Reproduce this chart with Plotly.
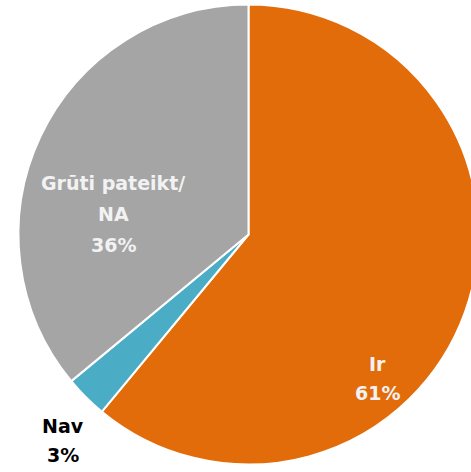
import plotly.graph_objects as go

# ---- data ----
labels = ["Ir", "Nav", "Grūti pateikt/<br>NA"]
label_lines = [["Ir"], ["Nav"], ["Grūti pateikt/", "NA"]]
values = [61, 3, 36]
colors = ["#E36C0A", "#4BACC6", "#A5A5A5"]

W, H = 495, 472

fig = go.Figure(go.Pie(
    labels=labels,
    values=values,
    sort=False,
    direction="clockwise",
    rotation=0,
    marker=dict(colors=colors, line=dict(color="white", width=2)),
    textinfo="none",
    hoverinfo="label+percent",
    domain=dict(x=[18.5 / W, 478.5 / W], y=[7.5 / H, 467.5 / H]),
    showlegend=False,
))

# label placements (pixel centres of each line, from top-left)
placements = {
    0: dict(x=377, ys=[364, 393], color="#F2F2F2"),
    1: dict(x=63, ys=[426, 455], color="#000000"),
    2: dict(x=113, ys=[183, 214, 245], color="#F2F2F2"),
}

annotations = []
for i, lines in enumerate(label_lines):
    p = placements[i]
    texts = lines + [f"{values[i]}%"]
    for t, yp in zip(texts, p["ys"]):
        annotations.append(dict(
            x=p["x"] / W, y=1 - yp / H, xref="paper", yref="paper",
            text=t, showarrow=False, xanchor="center", yanchor="middle",
            font=dict(family="DejaVu Sans", size=19, color=p["color"], weight="bold"),
        ))

fig.update_layout(
    width=W, height=H,
    margin=dict(l=0, r=0, t=0, b=0),
    paper_bgcolor="white",
    plot_bgcolor="white",
    annotations=annotations,
)

fig.write_html(
    "out.html",
    config={"displayModeBar": False},
    post_script="document.body.style.margin='0';document.body.style.overflow='hidden';document.documentElement.style.overflow='hidden';",
)
